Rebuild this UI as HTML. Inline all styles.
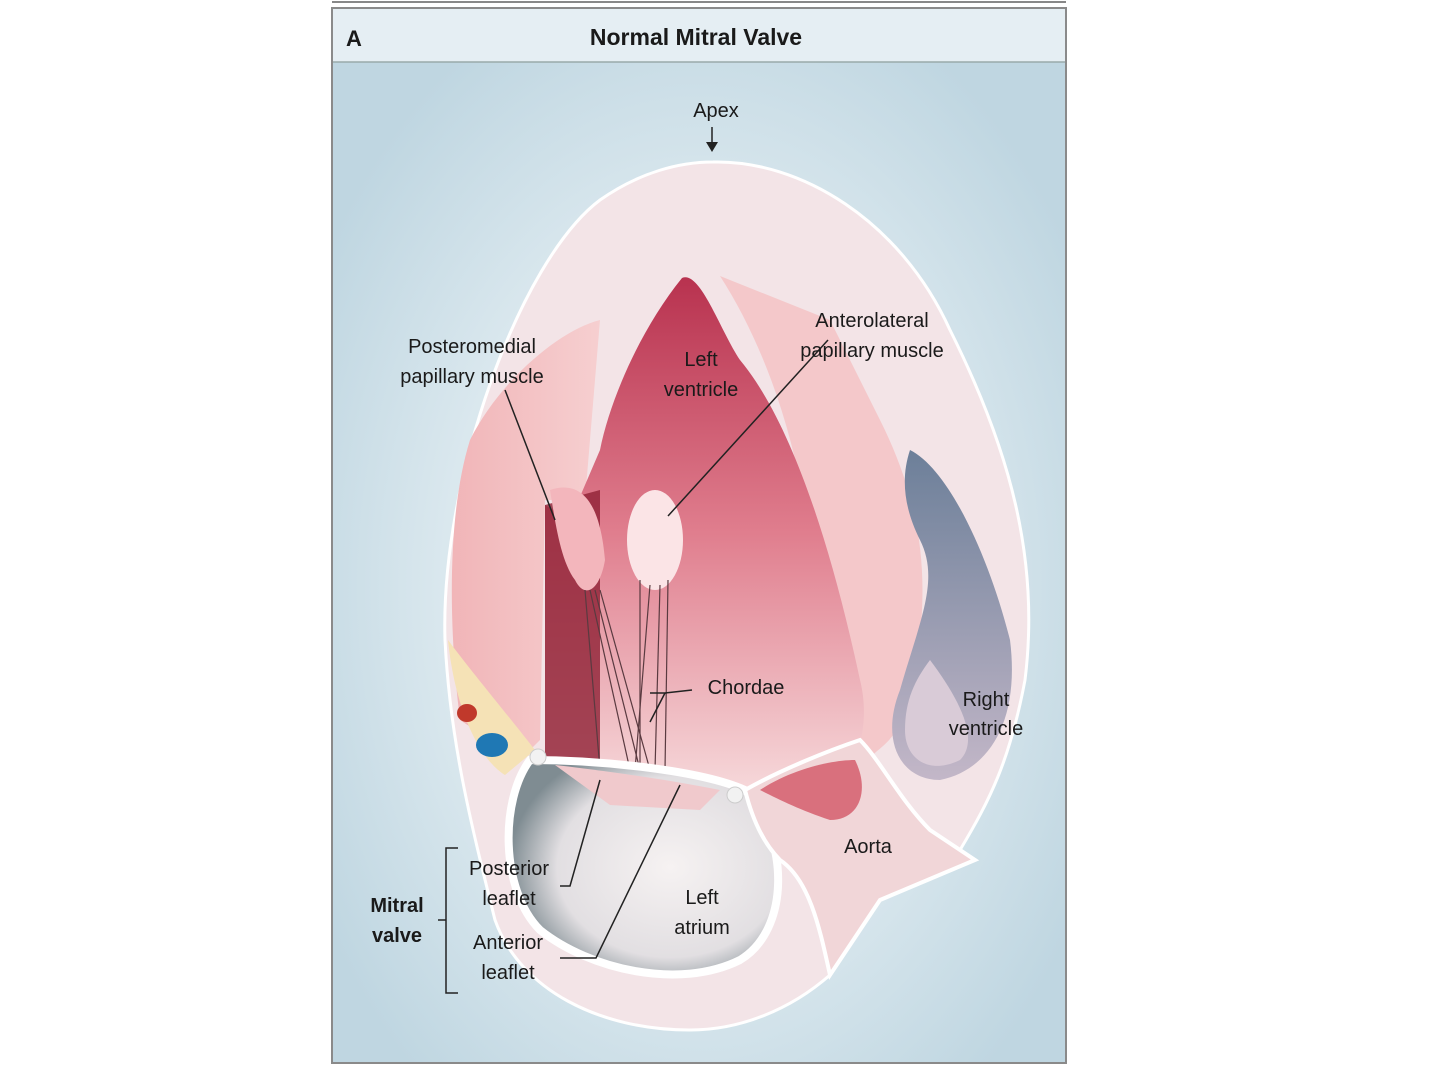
<!DOCTYPE html>
<html><head><meta charset="utf-8"><style>
html,body{margin:0;padding:0;background:#fff;width:1440px;height:1080px;overflow:hidden}
svg{position:absolute;left:0;top:0}
text{font-family:"Liberation Sans",sans-serif;fill:#1a1a1a}
</style></head><body>
<svg width="1440" height="1080" viewBox="0 0 1440 1080">
<defs>
<radialGradient id="bg" cx="0.5" cy="0.55" r="0.6">
<stop offset="0" stop-color="#eef3f6"/><stop offset="0.55" stop-color="#dce9ef"/><stop offset="1" stop-color="#bfd6e1"/>
</radialGradient>
<linearGradient id="lv" x1="0" y1="0" x2="0" y2="1">
<stop offset="0" stop-color="#b8324f"/><stop offset="0.5" stop-color="#e07e8e"/><stop offset="1" stop-color="#f6d8da"/>
</linearGradient>
<linearGradient id="wall" x1="0" y1="0" x2="1" y2="0">
<stop offset="0" stop-color="#f1b5b8"/><stop offset="1" stop-color="#f6cfd0"/>
</linearGradient>
<radialGradient id="la" cx="0.6" cy="0.5" r="0.6">
<stop offset="0" stop-color="#f6f2f2"/><stop offset="0.7" stop-color="#e2dfe2"/><stop offset="1" stop-color="#7f8c92"/>
</radialGradient>
<linearGradient id="rv" x1="0" y1="0" x2="0" y2="1">
<stop offset="0" stop-color="#6c7f99"/><stop offset="1" stop-color="#c3b7c8"/>
</linearGradient>
</defs>
<line x1="332" y1="2" x2="1066" y2="2" stroke="#888" stroke-width="2"/>
<rect x="332" y="8" width="734" height="1055" fill="url(#bg)" stroke="#8a8a8a" stroke-width="2"/>
<rect x="333" y="9" width="732" height="53" fill="#e5eef3"/>
<line x1="333" y1="62" x2="1065" y2="62" stroke="#9aa" stroke-width="1.5"/>
<text x="346" y="46" font-size="22" font-weight="bold">A</text>
<text x="696" y="45" font-size="23" font-weight="bold" text-anchor="middle">Normal Mitral Valve</text>

<!-- outer heart -->
<path d="M713,162 C800,160 900,220 950,330 C1010,450 1040,560 1025,680 C1010,760 990,800 960,850 L880,900 L830,975 C790,1010 740,1030 690,1030 C600,1030 520,990 495,920 C470,820 450,740 445,640 C440,480 520,260 600,200 C640,172 680,162 713,162 Z" fill="#f3e4e7" stroke="#fff" stroke-width="3"/>
<!-- lateral wall left -->
<path d="M470,440 C500,380 560,330 600,320 L585,500 L545,500 L540,740 L520,760 L460,720 C450,640 445,520 470,440 Z" fill="url(#wall)"/>
<!-- right wall -->
<path d="M720,276 L830,320 L880,420 C930,520 930,600 910,700 C890,760 870,740 860,780 L800,790 C840,600 800,400 720,276 Z" fill="#f4c8ca"/>
<!-- left ventricle cavity -->
<path d="M682,278 C700,270 720,330 740,360 C790,420 830,540 860,680 C870,720 860,760 840,780 L740,790 L600,770 L545,760 L545,505 L570,520 L600,450 C610,400 640,330 682,278 Z" fill="url(#lv)"/>
<path d="M545,505 L600,490 L600,770 L545,760 Z" fill="#8e2035" opacity="0.8"/>
<!-- papillary muscles -->
<path d="M550,490 C580,480 600,500 605,560 C600,590 585,600 575,580 C560,560 555,520 550,490 Z" fill="#f3b6bc"/>
<ellipse cx="655" cy="540" rx="28" ry="50" fill="#fbe4e6"/>
<!-- chordae -->
<g stroke="#5a3a40" stroke-width="1.2" fill="none">
<path d="M590,590 L630,770"/><path d="M595,590 L640,770"/><path d="M600,590 L650,770"/><path d="M585,590 L600,770"/>
<path d="M640,580 L640,770"/><path d="M650,585 L635,770"/><path d="M660,585 L655,770"/><path d="M668,580 L665,770"/>
</g>
<!-- right ventricle -->
<path d="M910,450 C950,470 990,560 1010,640 C1020,720 990,770 940,780 C900,780 880,740 900,690 C920,620 940,580 920,540 C905,510 900,480 910,450 Z" fill="url(#rv)"/>
<path d="M930,660 C960,700 980,740 960,760 C930,775 905,760 905,730 C905,700 915,680 930,660 Z" fill="#d9cbd7"/>
<!-- left atrium -->
<path d="M530,760 C600,760 700,770 745,790 C790,840 790,930 740,960 C680,990 590,970 540,930 C500,890 500,800 530,760 Z" fill="url(#la)" stroke="#fff" stroke-width="8"/>
<path d="M555,765 C600,770 670,780 720,790 L700,810 L610,805 Z" fill="#f0c9cc"/>
<!-- aorta -->
<path d="M745,790 C780,770 830,750 860,740 C880,760 900,800 930,830 L975,860 L880,900 L830,975 C820,930 810,880 780,860 C760,840 750,810 745,790 Z" fill="#f1d6d8" stroke="#fff" stroke-width="4"/>
<path d="M760,790 C790,770 830,760 855,760 C870,790 860,820 830,820 C800,810 780,800 760,790 Z" fill="#d9707d"/>
<!-- fat & vessels -->
<path d="M448,640 C470,670 520,730 535,750 L505,775 C480,760 455,710 448,640 Z" fill="#f5e2b6"/>
<ellipse cx="467" cy="713" rx="10" ry="9" fill="#c0392b"/>
<ellipse cx="492" cy="745" rx="16" ry="12" fill="#1f78b4"/>
<circle cx="538" cy="757" r="8" fill="#f2f2f2" stroke="#ccc"/>
<circle cx="735" cy="795" r="8" fill="#f2f2f2" stroke="#ccc"/>
<!-- leaflet lines -->
<g stroke="#222" stroke-width="1.5" fill="none">
<path d="M600,780 L570,886 L560,886"/>
<path d="M680,785 L596,958 L560,958"/>
<path d="M555,520 L505,390"/>
<path d="M668,516 L828,340"/>
<path d="M712,127 L712,150"/>
<path d="M650,693 L665,693 L692,690"/><path d="M665,693 L650,722"/>
<path d="M458,848 L446,848 L446,993 L458,993"/><path d="M446,920 L438,920"/>
</g>
<path d="M706,142 L712,152 L718,142 Z" fill="#222"/>
<g font-size="20" text-anchor="middle">
<text x="716" y="117">Apex</text>
<text x="472" y="353">Posteromedial</text><text x="472" y="383">papillary muscle</text>
<text x="701" y="366">Left</text><text x="701" y="396">ventricle</text>
<text x="872" y="327">Anterolateral</text><text x="872" y="357">papillary muscle</text>
<text x="746" y="694">Chordae</text>
<text x="986" y="706">Right</text><text x="986" y="735">ventricle</text>
<text x="868" y="853">Aorta</text>
<text x="509" y="875">Posterior</text><text x="509" y="905">leaflet</text>
<text x="702" y="904">Left</text><text x="702" y="934">atrium</text>
<text x="508" y="949">Anterior</text><text x="508" y="979">leaflet</text>
<text x="397" y="912" font-weight="bold">Mitral</text><text x="397" y="942" font-weight="bold">valve</text>
</g>
</svg>
</body></html>
